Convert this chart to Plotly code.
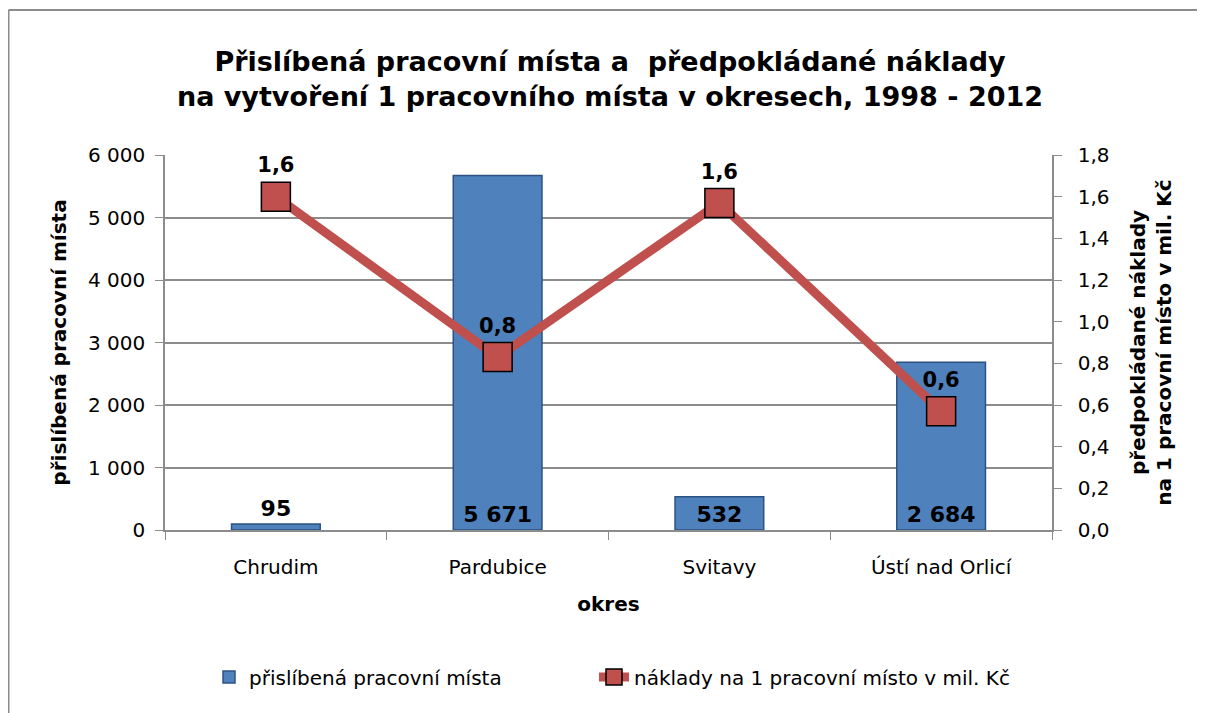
import plotly.graph_objects as go

okresy = ["Chrudim", "Pardubice", "Svitavy", "Ústí nad Orlicí"]
mista = [95, 5671, 532, 2684]
naklady = [1.60, 0.83, 1.57, 0.57]

FONT = "'DejaVu Sans', sans-serif"
BLUE = "#4F81BD"
RED = "#C0504D"
GRAY = "#8c8c8c"

def fmt_int(v):
    return "{:,}".format(v).replace(",", " ")

def fmt_dec(v):
    return "{:.1f}".format(v).replace(".", ",")

bar_pos = ["outside" if v < 300 else "inside" for v in mista]

fig = go.Figure()
fig.add_trace(go.Bar(
    x=okresy, y=mista, name="přislíbená pracovní místa",
    width=0.4,
    marker=dict(color=BLUE, line=dict(color="#2C5282", width=1.5)),
    text=[fmt_int(v) for v in mista],
    textposition=bar_pos,
    insidetextanchor="start",
    textfont=dict(size=22, color="black", family=FONT, weight="bold"),
    cliponaxis=False,
    legend="legend",
))
fig.add_trace(go.Scatter(
    x=okresy, y=naklady, name="náklady na 1 pracovní místo v mil. Kč",
    yaxis="y2", mode="lines+markers+text",
    line=dict(color=RED, width=9),
    marker=dict(symbol="square", size=29, color=RED, line=dict(color="black", width=1.5)),
    text=[fmt_dec(v) for v in naklady],
    textposition="top center",
    textfont=dict(size=21, color="black", family=FONT, weight="bold"),
    cliponaxis=False,
    legend="legend2",
))

# the page has an 8px body margin; sizes below are in figure (svg) pixels
W, H = 1197, 705
L, T, R, B = 157, 147, 1044, 522
pw, ph = R - L, B - T

# outer chart frame: only its left and top edges are inside the picture
fx = (0.5 - L) / pw
fy = (B - 2) / ph
fig.add_shape(type="line", xref="paper", yref="paper", x0=fx, x1=fx, y0=fy, y1=(B - H - 20) / ph,
              line=dict(color=GRAY, width=2))
fig.add_shape(type="line", xref="paper", yref="paper", x0=fx, x1=(W + 20 - L) / pw, y0=fy, y1=fy,
              line=dict(color=GRAY, width=2))

leg_y = (B - 669) / ph

fig.update_layout(
    width=W, height=H,
    margin=dict(l=L, r=W - R, t=T, b=H - B),
    paper_bgcolor="white", plot_bgcolor="white",
    font=dict(family=FONT, size=20, color="black"),
    separators=", ",
    title=dict(
        text="<b>Přislíbená pracovní místa a  předpokládané náklady<br>na vytvoření 1 pracovního místa v okresech, 1998 - 2012</b>",
        x=(602 - L) / pw, xref="paper", xanchor="center",
        y=1 - 63 / H, yanchor="middle",
        font=dict(size=27, family=FONT),
    ),
    xaxis=dict(
        title=dict(text="<b>okres</b>", standoff=19, font=dict(size=20)),
        showline=True, linecolor=GRAY, linewidth=1.5,
        ticks="outside", tickson="boundaries", ticklen=8, tickcolor=GRAY,
        ticklabelstandoff=18,
        tickfont=dict(size=20),
    ),
    yaxis=dict(
        title=dict(text="<b>přislíbená pracovní místa</b>", standoff=16, font=dict(size=20)),
        range=[0, 6000], dtick=1000, tickformat=",d",
        showline=True, linecolor=GRAY, linewidth=1.5,
        ticks="outside", ticklen=8, tickcolor=GRAY,
        ticklabelstandoff=6,
        showgrid=True, gridcolor=GRAY, gridwidth=1.5,
        zeroline=False, tickfont=dict(size=20),
    ),
    yaxis2=dict(
        title=dict(text="<b>předpokládané náklady<br>na 1 pracovní místo v mil. Kč</b>", standoff=22, font=dict(size=20)),
        overlaying="y", side="right",
        range=[0, 1.8], dtick=0.2, tickformat=".1f",
        showline=True, linecolor=GRAY, linewidth=1.5,
        ticks="outside", ticklen=8, tickcolor=GRAY,
        ticklabelstandoff=12,
        showgrid=False, zeroline=False, tickfont=dict(size=20),
    ),
    legend=dict(orientation="h", x=(201 - L) / pw, xanchor="left",
                y=leg_y, yanchor="middle", font=dict(size=20)),
    legend2=dict(orientation="h", x=(586 - L) / pw, xanchor="left",
                 y=leg_y, yanchor="middle", font=dict(size=20)),
    showlegend=True,
)

fig.write_html("out.html")
